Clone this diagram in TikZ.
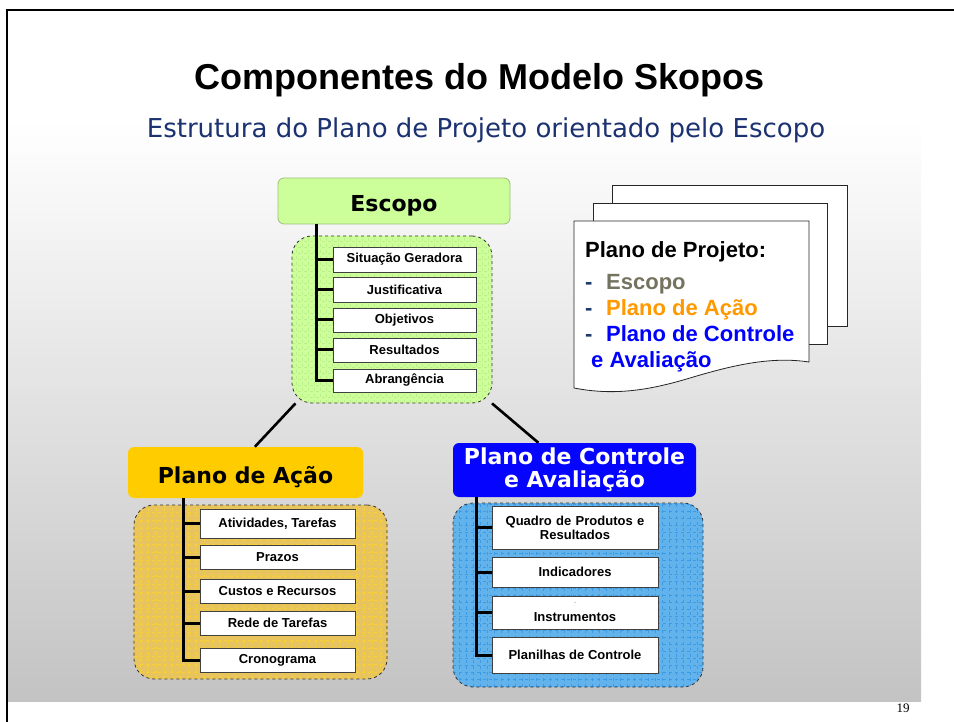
\documentclass[tikz,border=0pt]{standalone}
\usepackage{fontspec}
\setmainfont{Liberation Sans}
\newfontfamily\verdfont{DejaVu Sans}
\newfontfamily\serffont{Liberation Serif}
\usetikzlibrary{positioning,calc}

\definecolor{slidegray}{HTML}{C3C3C3}
\definecolor{escgreen}{HTML}{CCFF99}
\definecolor{escgrid}{HTML}{BCEE8A}
\definecolor{escedge}{HTML}{9DBF7C}
\definecolor{acagold}{HTML}{FFCC00}
\definecolor{acabox}{HTML}{E8C45E}
\definecolor{acagrid}{HTML}{F8D03C}
\definecolor{ctlblue}{HTML}{0505FF}
\definecolor{ctlbox}{HTML}{62B2EC}
\definecolor{ctlgrid}{HTML}{3D9BE6}
\definecolor{subnavy}{HTML}{1B3170}
\definecolor{dashnavy}{HTML}{1F3A6E}
\definecolor{txtolive}{HTML}{74735F}
\definecolor{txtorange}{HTML}{FF9900}

\begin{document}
\begin{tikzpicture}[
    x=1pt, y=-1pt,
    item/.style={draw=black!75, fill=white, line width=0.8pt, inner sep=0pt,
                 align=center, font=\fontsize{13}{14}\selectfont\bfseries},
    head/.style={rounded corners=6pt, inner sep=0pt, align=center,
                 font=\verdfont\fontsize{22}{23}\selectfont\bfseries},
    holder/.style={draw=black!80, dashed, line width=0.8pt, rounded corners=20pt,
                   inner sep=0pt, fill=#1},
    spine/.style={line width=3pt},
    link/.style={line width=2.6pt},
    page/.style={draw=black!85, fill=white, line width=0.8pt},
]
    \useasboundingbox (0,0) rectangle (954,722);

    % Slide background
    \fill[white] (8,10) rectangle (921,120);
    \shade[top color=white, bottom color=slidegray] (8,120) rectangle (921,701);
    \draw[line width=2.5pt] (7,722) -- (7,10) -- (954,10);
    \node[font=\serffont\fontsize{13}{14}\selectfont] (pagenum) at (903,708) {19};

    % Titles
    \node[anchor=base, font=\fontsize{36}{40}\selectfont\bfseries] (title) at (479.5,90)
        {Componentes do Modelo Skopos};
    \node[anchor=base, font=\verdfont\fontsize{26}{28}\selectfont, text=subnavy] (subtitle) at (486,138)
        {Estrutura do Plano de Projeto orientado pelo Escopo};

    % Containers
    \node[holder=escgreen, minimum width=200pt, minimum height=167pt,
          path picture={\draw[escgrid, line width=0.5pt] (path picture bounding box.south west)
              grid[step=6pt] (path picture bounding box.north east);}] (escbox) at (392,319.5) {};
    \node[holder=acabox, minimum width=253pt, minimum height=174pt,
          path picture={\draw[acagrid, line width=0.7pt] (path picture bounding box.south west)
              grid[step=8pt] (path picture bounding box.north east);}] (acabox) at (260.5,592) {};
    \node[holder=ctlbox, minimum width=250pt, minimum height=184pt,
          path picture={\draw[ctlgrid, line width=0.6pt] (path picture bounding box.south west)
              grid[step=7pt] (path picture bounding box.north east);}] (ctlbox) at (578,595) {};

    % Escopo
    \node[head, fill=escgreen, draw=escedge, line width=0.8pt, minimum width=232pt, minimum height=46pt,
          text height=22pt, text depth=0pt] (eschead) at (394,201) {Escopo};
    \coordinate (escroot) at (316,224);
    \node[item, minimum width=143pt, minimum height=25pt] (sit) at (404.5,259.5) {Situação Geradora};
    \node[item, minimum width=143pt, minimum height=25pt] (jus) at (404.5,289.5) {Justificativa};
    \node[item, minimum width=143pt, minimum height=24pt] (obj) at (404.5,320) {Objetivos};
    \node[item, minimum width=143pt, minimum height=24pt] (res) at (404.5,350) {Resultados};
    \node[item, minimum width=143pt, minimum height=23pt] (abr) at (404.5,380.5) {Abrangência};
    \foreach \n in {sit,jus,obj,res,abr}
        \draw[spine] (escroot) |- (\n.west);

    % Plano de Acao
    \node[head, fill=acagold, minimum width=235pt, minimum height=51pt,
          text height=21pt, text depth=0pt] (acahead) at (245.5,472.5) {Plano de Ação};
    \coordinate (acaroot) at (183,498);
    \node[item, minimum width=155pt, minimum height=29pt] (ati) at (277.5,523.5) {Atividades, Tarefas};
    \node[item, minimum width=155pt, minimum height=24pt] (pra) at (277.5,557) {Prazos};
    \node[item, minimum width=155pt, minimum height=24pt] (cus) at (277.5,591) {Custos e Recursos};
    \node[item, minimum width=155pt, minimum height=24pt] (red) at (277.5,623) {Rede de Tarefas};
    \node[item, minimum width=155pt, minimum height=24pt] (cro) at (277.5,660) {Cronograma};
    \foreach \n in {ati,pra,cus,red,cro}
        \draw[spine] (acaroot) |- (\n.west);

    % Plano de Controle e Avaliacao
    \node[head, fill=ctlblue, text=white, minimum width=243pt, minimum height=54pt]
        (ctlhead) at (574.5,470) {Plano de Controle\\e Avaliação};
    \coordinate (ctlroot) at (476,497);
    \node[item, text width=166pt, minimum height=43pt] (qua) at (575,527.5)
        {Quadro de Produtos e\\Resultados};
    \node[item, minimum width=166pt, minimum height=30pt] (ind) at (575,572) {Indicadores};
    \node[item, minimum width=166pt, minimum height=33pt] (ins) at (575,612.5)
        {{\fontsize{4}{4}\selectfont ¨}\\[2pt]Instrumentos};
    \node[item, minimum width=166pt, minimum height=36pt] (pla) at (575,655) {Planilhas de Controle};
    \foreach \n in {qua,ind,ins,pla}
        \draw[spine] (ctlroot) |- (\n.west);

    % Links from Escopo
    \draw[link] (escbox.221) -- (acahead.70);
    \draw[link] (escbox.320) -- (ctlhead.143);

    % Pile of pages
    \draw[page] (612,185) rectangle (847,326);
    \draw[page] (593,203) rectangle (827,344);
    \draw[page] (574,221) -- (809,221) -- (809,362)
        .. controls (770,356) and (730,366) .. (690,378)
        .. controls (650,390) and (615,396) .. (574,388) -- cycle;
    \node[anchor=north west, inner sep=0pt, align=left,
          font=\fontsize{22}{26}\selectfont\bfseries] (plano) at (585,241)
        {Plano de Projeto:\\[6pt]
         \textcolor{dashnavy}{\makebox[21pt][l]{-}}\textcolor{txtolive}{Escopo}\\
         \textcolor{dashnavy}{\makebox[21pt][l]{-}}\textcolor{txtorange}{Plano de Ação}\\
         \textcolor{dashnavy}{\makebox[21pt][l]{-}}\textcolor{blue}{Plano de Controle}\\
         \hspace*{6pt}\textcolor{blue}{e Avaliação}};
\end{tikzpicture}
\end{document}
